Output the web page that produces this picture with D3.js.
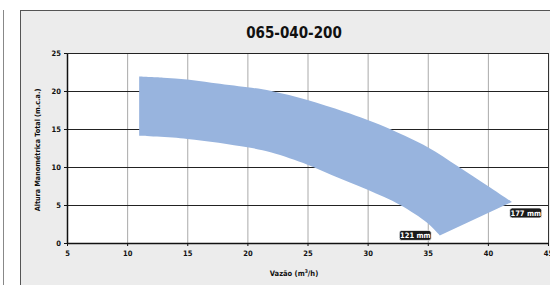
<!DOCTYPE html>
<html>
<head>
<meta charset="utf-8">
<script src="https://cdn.jsdelivr.net/npm/d3@7"></script>
<style>
  body { margin: 0; background: #fff; }
  svg { display: block; font-family: "DejaVu Sans Condensed", "DejaVu Sans", sans-serif; }
</style>
</head>
<body>
<div class="graph"></div>
<script>
const title = "065-040-200";
const xTicks = [5, 10, 15, 20, 25, 30, 35, 40, 45];
const yTicks = [0, 5, 10, 15, 20, 25];

// impeller 177 mm (top edge of the band)
const upperQ = [11, 13, 15, 17, 20, 22, 25, 28, 30, 32, 35, 37.5, 40, 42];
const upperH = [21.9, 21.75, 21.5, 21.1, 20.5, 20.0, 18.8, 17.3, 16.2, 14.9, 12.6, 10.1, 7.5, 5.4];

// impeller 121 mm (bottom edge of the band)
const lowerQ = [11, 15, 20, 22, 25, 27, 30, 32.7, 35, 36];
const lowerH = [14.1, 13.7, 12.6, 11.9, 10.3, 8.95, 7.0, 5.0, 2.6, 1.0];

const labels = ["121 mm", "177 mm"];

const width = 550, height = 285;
const mLeft = 67, mRight = 548, mTop = 53, mBottom = 243;

const svg = d3.select(".graph")
  .append("svg")
  .attr("width", width)
  .attr("height", height);

// panel frames
svg.append("line")
  .attr("x1", 3.5).attr("x2", 3.5).attr("y1", 10).attr("y2", height)
  .attr("stroke", "#888").attr("stroke-width", 1);

svg.append("rect")
  .attr("x", 20.5).attr("y", 10.5)
  .attr("width", 560).attr("height", 300)
  .attr("fill", "#ececec")
  .attr("stroke", "#555").attr("stroke-width", 1);

svg.append("text")
  .attr("x", 294).attr("y", 38)
  .attr("text-anchor", "middle")
  .attr("font-size", 15).attr("font-weight", "bold")
  .attr("fill", "#111")
  .text(title);

const x = d3.scaleLinear().domain([5, 45]).range([mLeft, mRight]);
const y = d3.scaleLinear().domain([0, 25]).range([mBottom, mTop]);

svg.append("rect")
  .attr("x", mLeft).attr("y", mTop)
  .attr("width", mRight - mLeft).attr("height", mBottom - mTop)
  .attr("fill", "#fff");

// vertical grid
svg.append("g")
  .selectAll("line")
  .data(xTicks.slice(1))
  .enter()
  .append("line")
  .attr("x1", d => x(d) + 0.5).attr("x2", d => x(d) + 0.5)
  .attr("y1", mTop).attr("y2", mBottom)
  .attr("stroke", d => d === 45 ? "#333" : "#aaa")
  .attr("stroke-width", 1);

// horizontal grid
svg.append("g")
  .selectAll("line")
  .data(yTicks.slice(1))
  .enter()
  .append("line")
  .attr("x1", mLeft).attr("x2", mRight)
  .attr("y1", d => y(d) + 0.5).attr("y2", d => y(d) + 0.5)
  .attr("stroke", "#222")
  .attr("stroke-width", 1.2);

// band
const upper = upperQ.map((q, i) => [q, upperH[i]]);
const lower = lowerQ.map((q, i) => [q, lowerH[i]]).reverse();
const line = d3.line()
  .x(d => x(d[0]))
  .y(d => y(d[1]))
  .curve(d3.curveCatmullRom.alpha(0.5));

const bandPath = line(upper) + line(lower).replace(/^M/, "L") + "Z";
svg.append("path")
  .attr("d", bandPath)
  .attr("fill", "#98b4de");

// axes
const xAxis = d3.axisBottom(x).tickValues(xTicks).tickSize(3).tickSizeOuter(0);
const yAxis = d3.axisLeft(y).tickValues(yTicks).tickSize(3).tickSizeOuter(0);

const gx = svg.append("g")
  .attr("transform", `translate(0, ${mBottom})`)
  .call(xAxis);
gx.select(".domain").attr("stroke", "#111").attr("stroke-width", 1.5);
gx.selectAll(".tick line").attr("stroke", "#111");
gx.selectAll("text")
  .attr("font-size", 7.5).attr("font-weight", "bold")
  .attr("font-family", "DejaVu Sans Condensed")
  .attr("fill", "#111").attr("dy", "0.9em");

const gy = svg.append("g")
  .attr("transform", `translate(${mLeft}, 0)`)
  .call(yAxis);
gy.select(".domain").attr("stroke", "#111").attr("stroke-width", 1.5);
gy.selectAll(".tick line").attr("stroke", "#111");
gy.selectAll("text")
  .attr("font-size", 7.5).attr("font-weight", "bold")
  .attr("font-family", "DejaVu Sans Condensed")
  .attr("fill", "#111");

svg.append("line")
  .attr("x1", mLeft).attr("x2", mRight)
  .attr("y1", mTop + 0.5).attr("y2", mTop + 0.5)
  .attr("stroke", "#222").attr("stroke-width", 1.2);

// axis titles
svg.append("text")
  .attr("transform", `translate(39.5, ${(mTop + mBottom) / 2 + 2}) rotate(-90)`)
  .attr("text-anchor", "middle")
  .attr("font-size", 7.2).attr("font-weight", "bold")
  .attr("fill", "#111")
  .text("Altura Manométrica Total (m.c.a.)");

const xt = svg.append("text")
  .attr("x", 294).attr("y", 276)
  .attr("text-anchor", "middle")
  .attr("font-size", 7.5).attr("font-weight", "bold")
  .attr("fill", "#111");
xt.append("tspan").text("Vazão (m");
xt.append("tspan").attr("font-size", 5).attr("dy", -3).text("3");
xt.append("tspan").attr("dy", 3).text("/h)");

// impeller badges
const badgePos = [
  [lowerQ[lowerQ.length - 1], lowerH[lowerH.length - 1], -24.5, 0],
  [upperQ[upperQ.length - 1], upperH[upperH.length - 1], 13.8, 11]
];
labels.forEach((t, i) => {
  const [q, h, dx, dy] = badgePos[i];
  const cx = x(q) + dx, cy = y(h) + dy;
  const g = svg.append("g").attr("transform", `translate(${cx}, ${cy})`);
  g.append("rect")
    .attr("x", -16).attr("y", -5)
    .attr("width", 32).attr("height", 10)
    .attr("rx", 2.5)
    .attr("fill", "#1a1a1a")
    .attr("stroke", "#fff").attr("stroke-width", 0.8);
  g.append("text")
    .attr("text-anchor", "middle")
    .attr("dy", "0.36em")
    .attr("font-size", 7.5).attr("font-weight", "bold")
    .attr("fill", "#fff")
    .text(t);
});
</script>
</body>
</html>
